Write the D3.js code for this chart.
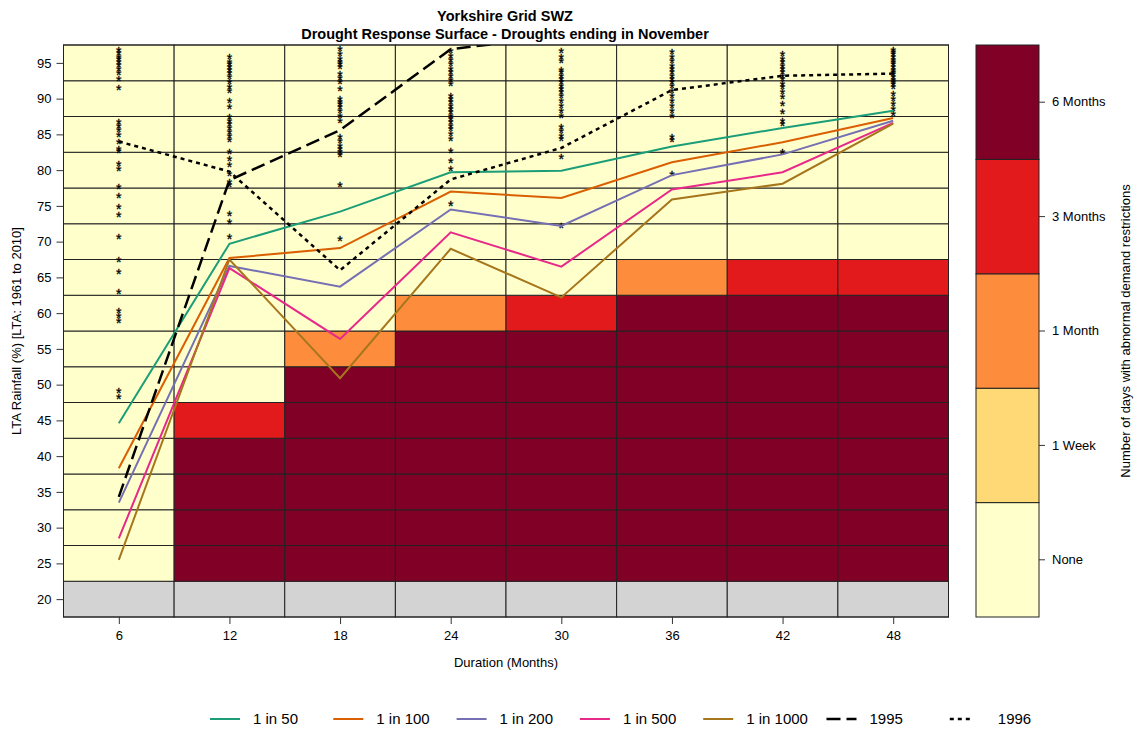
<!DOCTYPE html>
<html>
<head>
<meta charset="utf-8">
<script src="https://cdn.jsdelivr.net/npm/d3@7"></script>
<style>
  body { margin: 0; background: #fff; }
  svg text { font-family: "Liberation Sans", Arial, sans-serif; fill: #000; }
</style>
</head>
<body>
<div id="chart"></div>
<script>
// Duration (months) and rainfall (% of LTA) levels of the response surface
const durations = [6, 12, 18, 24, 30, 36, 42, 48];
const rainLevels = [20, 25, 30, 35, 40, 45, 50, 55, 60, 65, 70, 75, 80, 85, 90, 95];

// restriction categories (index used in the grid below)
const categories = ["None", "1 Week", "1 Month", "3 Months", "6 Months"];
const catColors = ["#FFFFCC", "#FED976", "#FD8D3C", "#E31A1C", "#800026"];
const naColor = "#D3D3D3";

// one row per duration, one value per rain level (null = no data)
const surfaceGrid = [
  [null, 0, 0, 0, 0, 0, 0, 0, 0, 0, 0, 0, 0, 0, 0, 0],
  [null, 4, 4, 4, 4, 3, 0, 0, 0, 0, 0, 0, 0, 0, 0, 0],
  [null, 4, 4, 4, 4, 4, 4, 2, 0, 0, 0, 0, 0, 0, 0, 0],
  [null, 4, 4, 4, 4, 4, 4, 4, 2, 0, 0, 0, 0, 0, 0, 0],
  [null, 4, 4, 4, 4, 4, 4, 4, 3, 0, 0, 0, 0, 0, 0, 0],
  [null, 4, 4, 4, 4, 4, 4, 4, 4, 2, 0, 0, 0, 0, 0, 0],
  [null, 4, 4, 4, 4, 4, 4, 4, 4, 3, 0, 0, 0, 0, 0, 0],
  [null, 4, 4, 4, 4, 4, 4, 4, 4, 3, 0, 0, 0, 0, 0, 0]
];

// return period curves and historic droughts
const rp50   = [44.6, 69.7, 74.2, 79.7, 79.9, 83.3, 85.9, 88.3];
const rp100  = [38.3, 67.7, 69.1, 77.0, 76.1, 81.1, 83.9, 87.3];
const rp200  = [33.5, 66.6, 63.7, 74.5, 72.2, 79.3, 82.2, 86.9];
const rp500  = [28.5, 66.3, 56.4, 71.3, 66.5, 77.3, 79.7, 86.6];
const rp1000 = [25.5, 67.5, 50.9, 69.0, 62.2, 75.9, 78.1, 86.5];
const yr1995 = [34.3, 78.6, 85.6, 96.9, 98.8, 100.5, 101.0, 101.5];
const yr1996 = [84.0, 79.8, 66.0, 78.7, 83.1, 91.2, 93.2, 93.5];

// rainfall of historic events, one list per duration
const events = [
  [96.9, 96.5, 96.0, 95.7, 95.3, 94.8, 94.3, 93.7, 92.8, 91.6, 86.8, 86.3, 85.7, 85.0, 84.0, 83.1,
   82.8, 81.0, 80.3, 77.8, 76.5, 75.0, 73.8, 70.7, 67.5, 65.8, 63.1, 60.4, 59.7, 59.0, 49.2, 48.4],
  [95.9, 95.3, 94.9, 94.5, 94.1, 93.7, 93.2, 92.4, 91.8, 91.2, 89.8, 88.9, 87.6, 87.0, 86.5, 86.0,
   85.5, 84.9, 84.4, 82.6, 81.7, 80.9, 79.6, 78.4, 78.1, 74.0, 72.8, 70.7],
  [97.0, 96.4, 95.7, 95.2, 94.9, 94.5, 93.6, 93.0, 92.4, 91.5, 90.1, 89.7, 89.4, 88.9, 88.4, 87.7,
   87.0, 84.7, 84.2, 83.5, 83.1, 82.6, 82.2, 78.1, 70.5],
  [96.8, 96.1, 95.5, 94.9, 94.3, 93.8, 93.3, 92.7, 92.2, 90.5, 90.1, 89.6, 89.1, 88.7, 88.2, 87.7,
   87.3, 86.8, 86.3, 85.9, 85.2, 84.5, 82.8, 81.4, 80.3, 75.4],
  [96.8, 95.9, 95.4, 94.1, 93.8, 93.3, 92.9, 92.4, 91.9, 91.5, 91.0, 90.5, 89.8, 89.1, 88.4, 87.7,
   86.1, 85.6, 84.9, 84.5, 81.9, 72.3],
  [96.6, 95.9, 95.4, 94.7, 94.3, 93.8, 93.3, 92.9, 92.4, 91.9, 91.2, 90.5, 89.8, 89.1, 88.4, 87.7,
   84.7, 84.3, 79.6],
  [96.4, 95.7, 95.2, 94.7, 94.3, 93.8, 93.3, 92.9, 92.2, 91.7, 91.0, 90.3, 89.4, 88.2, 87.0, 86.6, 82.6],
  [96.9, 96.6, 96.3, 95.9, 95.5, 95.2, 94.9, 94.5, 94.1, 93.8, 93.5, 93.1, 92.7, 92.4, 92.1, 91.7,
   90.8, 90.1, 89.4, 88.7, 88.0]
];

const seriesNames = ["1 in 50", "1 in 100", "1 in 200", "1 in 500", "1 in 1000", "1995", "1996"];
const seriesValues = [rp50, rp100, rp200, rp500, rp1000, yr1995, yr1996];
const seriesColors = ["#1B9E77", "#D95F02", "#7570B3", "#E7298A", "#A6761D", "#000", "#000"];
const seriesDash = [null, null, null, null, null, "14,6", "4,4"];

window.onload = () => {
  const W = 1138, H = 731;
  const plot = { left: 63.5, right: 948.5, top: 45, bottom: 617 };

  const svg = d3.select("#chart").append("svg")
    .attr("width", W).attr("height", H);

  const x = d3.scaleLinear().domain([3, 51]).range([plot.left, plot.right]);
  const y = d3.scaleLinear().domain([17.5, 97.5]).range([plot.bottom, plot.top]);

  svg.append("clipPath").attr("id", "plotClip")
    .append("rect")
    .attr("x", plot.left).attr("y", plot.top)
    .attr("width", plot.right - plot.left).attr("height", plot.bottom - plot.top);

  // 1. Response surface cells
  const cells = [];
  durations.forEach((d, i) => {
    rainLevels.forEach((r, j) => cells.push({ d, r, c: surfaceGrid[i][j] }));
  });

  svg.append("g").selectAll("rect")
    .data(cells)
    .enter().append("rect")
    .attr("x", d => x(d.d - 3))
    .attr("y", d => y(d.r + 2.5))
    .attr("width", d => x(d.d + 3) - x(d.d - 3))
    .attr("height", d => y(d.r - 2.5) - y(d.r + 2.5))
    .attr("fill", d => d.c === null ? naColor : catColors[d.c])
    .attr("stroke", "#222")
    .attr("stroke-width", 1);

  // 2. Historic drought events, drawn as "*" like pch = "*"
  const stars = [];
  durations.forEach((d, i) => events[i].forEach(v => stars.push({ d, v })));

  svg.append("g").attr("clip-path", "url(#plotClip)")
    .selectAll("text")
    .data(stars)
    .enter().append("text")
    .attr("x", d => x(d.d))
    .attr("y", d => y(d.v))
    .attr("dy", "0.56em")
    .attr("text-anchor", "middle")
    .attr("font-size", 14)
    .attr("stroke", "#000")
    .attr("stroke-width", 0.3)
    .text("*");

  // 3. Lines
  const line = d3.line()
    .x((v, i) => x(durations[i]))
    .y(v => y(v));

  const lineG = svg.append("g").attr("clip-path", "url(#plotClip)");
  seriesValues.forEach((vals, k) => {
    lineG.append("path")
      .datum(vals)
      .attr("d", line)
      .attr("fill", "none")
      .attr("stroke", seriesColors[k])
      .attr("stroke-width", k >= 5 ? 2.5 : 2)
      .attr("stroke-dasharray", seriesDash[k]);
  });

  // plot box
  svg.append("rect")
    .attr("x", plot.left).attr("y", plot.top)
    .attr("width", plot.right - plot.left).attr("height", plot.bottom - plot.top)
    .attr("fill", "none").attr("stroke", "#222");

  // 4. Axes
  const yAxis = svg.append("g")
    .attr("transform", `translate(${plot.left},0)`)
    .call(d3.axisLeft(y).tickValues(rainLevels).tickSize(7).tickPadding(5));
  yAxis.select(".domain").remove();
  yAxis.selectAll("text").attr("font-size", 13).attr("font-family", null).attr("fill", "#222");
  yAxis.selectAll("line").attr("stroke", "#333");

  const xAxis = svg.append("g")
    .attr("transform", `translate(0,${plot.bottom})`)
    .call(d3.axisBottom(x).tickValues(durations).tickSize(7).tickPadding(7));
  xAxis.select(".domain").remove();
  xAxis.selectAll("text").attr("font-size", 13).attr("font-family", null).attr("fill", "#222");
  xAxis.selectAll("line").attr("stroke", "#333");

  svg.append("text")
    .attr("x", (plot.left + plot.right) / 2)
    .attr("y", 667)
    .attr("text-anchor", "middle")
    .attr("font-size", 13)
    .text("Duration (Months)");

  svg.append("text")
    .attr("transform", "rotate(-90)")
    .attr("x", -(plot.top + plot.bottom) / 2)
    .attr("y", 21)
    .attr("text-anchor", "middle")
    .attr("font-size", 13)
    .text("LTA Rainfall (%) [LTA: 1961 to 2010]");

  // Title
  svg.append("text")
    .attr("x", 505).attr("y", 21)
    .attr("text-anchor", "middle")
    .attr("font-size", 14.5).attr("font-weight", "bold")
    .text("Yorkshire Grid SWZ");
  svg.append("text")
    .attr("x", 505).attr("y", 39)
    .attr("text-anchor", "middle")
    .attr("font-size", 14.5).attr("font-weight", "bold")
    .text("Drought Response Surface - Droughts ending in November");

  // 5. Colour key
  const key = d3.scaleBand().domain(categories).range([plot.bottom, plot.top]);
  const keyX0 = 976, keyX1 = 1039;

  svg.append("g").selectAll("rect")
    .data(categories)
    .enter().append("rect")
    .attr("x", keyX0)
    .attr("y", d => key(d))
    .attr("width", keyX1 - keyX0)
    .attr("height", key.bandwidth())
    .attr("fill", (d, i) => catColors[i])
    .attr("stroke", "#222");

  const keyAxis = svg.append("g")
    .attr("transform", `translate(${keyX1},0)`)
    .call(d3.axisRight(key).tickSize(6).tickPadding(7));
  keyAxis.select(".domain").remove();
  keyAxis.selectAll("text").attr("font-size", 13).attr("font-family", null).attr("fill", "#222");
  keyAxis.selectAll("line").attr("stroke", "#333");

  svg.append("text")
    .attr("transform", "rotate(-90)")
    .attr("x", -(plot.top + plot.bottom) / 2)
    .attr("y", 1130)
    .attr("text-anchor", "middle")
    .attr("font-size", 13)
    .text("Number of days with abnormal demand restrictions");

  // 6. Bottom legend
  const legend = svg.append("g").attr("transform", "translate(210,719)");
  seriesNames.forEach((name, k) => {
    const g = legend.append("g").attr("transform", `translate(${k * 123.3},0)`);
    g.append("line")
      .attr("x1", 0).attr("x2", k === 6 ? 24 : 30)
      .attr("y1", 0).attr("y2", 0)
      .attr("stroke", seriesColors[k])
      .attr("stroke-width", k >= 5 ? 2.5 : 2)
      .attr("stroke-dasharray", seriesDash[k]);
    g.append("text")
      .attr("x", k === 6 ? 48 : 43)
      .attr("y", 0)
      .attr("dy", "0.35em")
      .attr("font-size", 15)
      .text(name);
  });
};
</script>
</body>
</html>
